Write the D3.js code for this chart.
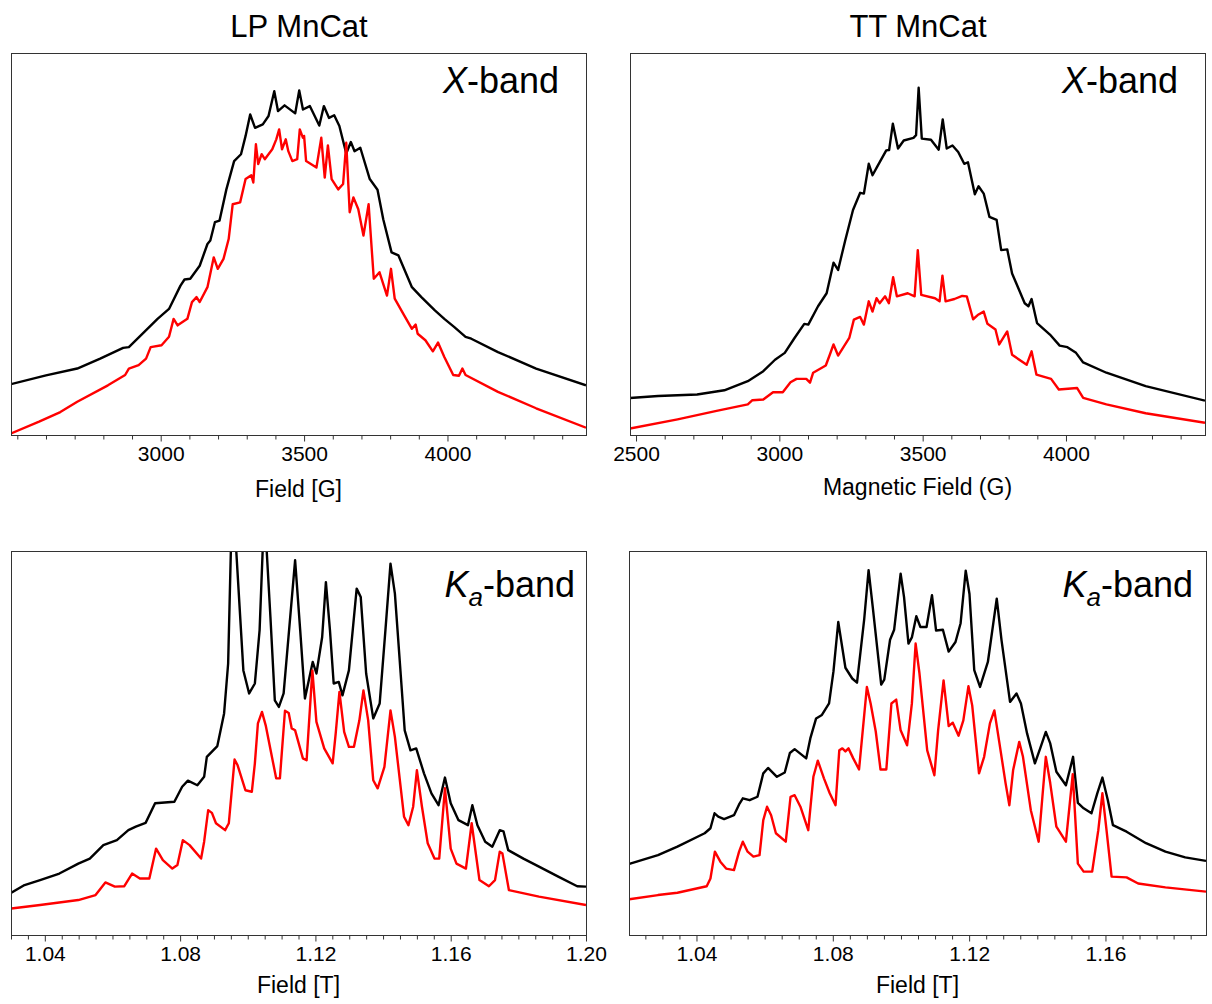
<!DOCTYPE html>
<html>
<head>
<meta charset="utf-8">
<script src="https://cdn.jsdelivr.net/npm/d3@7"></script>
<style>
  html, body { margin: 0; padding: 0; background: #fff; }
  svg { display: block; }
  text { font-family: "Liberation Sans", Arial, sans-serif; fill: #000; }
</style>
</head>
<body>
<svg id="chart" width="1212" height="1004"></svg>
<script>
// ---------------- DATA ----------------
const columnTitles = ["LP MnCat", "TT MnCat"];
const xAxisTitles = ["Field [G]", "Magnetic Field (G)", "Field [T]", "Field [T]"];

const ticksLPX = [3000, 3500, 4000];
const ticksTTX = [2500, 3000, 3500, 4000];
const ticksLPKa = [1.04, 1.08, 1.12, 1.16, 1.20];
const ticksTTKa = [1.04, 1.08, 1.12, 1.16];

// [field (G), intensity (a.u.)]
const lpXBlack = [[2478,13.3],[2600,15.6],[2709,17.4],[2789,20.0],[2869,22.8],[2889,23.0],[2943,27.0],[2989,30.4],[3029,33.0],[3069,39.1],[3083,40.7],[3103,40.9],[3136,44.3],[3163,50.0],[3173,50.9],[3189,55.7],[3205,56.1],[3229,64.3],[3256,71.7],[3280,73.5],[3296,78.3],[3312,83.9],[3329,80.4],[3356,81.3],[3376,83.5],[3396,90.0],[3409,84.8],[3432,86.3],[3469,84.2],[3483,90.2],[3496,85.2],[3520,86.1],[3553,81.0],[3569,86.1],[3587,83.0],[3605,83.7],[3623,80.9],[3647,73.7],[3663,76.7],[3676,74.3],[3696,75.2],[3729,67.0],[3756,64.2],[3776,56.5],[3805,47.8],[3829,47.0],[3876,38.7],[3909,36.1],[3956,32.6],[3989,30.4],[4023,28.3],[4063,25.7],[4083,25.2],[4176,21.7],[4309,17.4],[4483,13.0]];
const lpXRed = [[2478,0.4],[2576,3.5],[2650,6.0],[2709,8.7],[2816,13.0],[2876,15.7],[2889,17.4],[2923,18.3],[2949,20.0],[2965,23.0],[3003,23.5],[3029,25.7],[3045,30.4],[3059,28.7],[3093,30.4],[3109,34.8],[3125,36.1],[3136,34.8],[3163,38.7],[3185,46.5],[3199,43.5],[3219,46.1],[3237,51.3],[3251,60.4],[3277,60.9],[3296,67.0],[3316,68.0],[3323,66.1],[3332,76.1],[3340,70.9],[3352,73.5],[3363,72.2],[3389,74.8],[3403,77.4],[3413,80.0],[3423,74.8],[3436,77.4],[3445,74.3],[3459,71.7],[3476,72.2],[3485,80.0],[3496,77.8],[3500,78.3],[3507,71.7],[3543,70.0],[3560,77.8],[3572,67.4],[3583,75.8],[3596,67.0],[3619,64.3],[3636,65.7],[3647,76.5],[3659,58.3],[3672,62.2],[3689,59.1],[3707,52.2],[3725,60.4],[3743,40.9],[3763,42.6],[3789,36.5],[3803,43.5],[3816,35.7],[3849,31.3],[3876,27.8],[3889,28.9],[3896,26.5],[3923,24.8],[3949,21.9],[3967,24.2],[3989,20.4],[4020,15.7],[4040,15.5],[4052,17.4],[4063,15.7],[4176,11.3],[4309,7.0],[4483,1.9]];

const ttXBlack = [[2479,9.7],[2577,10.2],[2713,10.6],[2808,11.7],[2890,14.1],[2944,16.7],[2985,19.7],[3019,21.5],[3053,25.4],[3087,29.1],[3101,28.9],[3135,33.7],[3165,37.1],[3189,45.1],[3205,43.2],[3230,51.0],[3257,58.9],[3282,63.4],[3295,63.2],[3312,71.0],[3325,68.0],[3341,70.2],[3373,74.5],[3383,74.6],[3396,81.5],[3414,75.0],[3434,77.1],[3468,77.8],[3477,78.5],[3486,90.9],[3497,77.6],[3529,77.3],[3556,74.7],[3570,82.6],[3584,75.0],[3604,75.8],[3624,74.1],[3645,71.0],[3658,71.4],[3682,63.0],[3695,65.1],[3713,63.2],[3733,57.1],[3758,56.3],[3774,48.4],[3795,48.6],[3812,42.3],[3856,34.5],[3869,33.7],[3880,35.6],[3899,29.3],[3944,26.3],[3978,23.4],[4005,23.0],[4035,21.5],[4060,19.0],[4141,16.3],[4278,12.8],[4485,9.0]];
const ttXRed = [[2479,1.7],[2645,4.1],[2781,6.3],[2890,8.0],[2906,9.1],[2944,9.3],[2978,11.2],[3012,11.2],[3039,13.8],[3060,14.7],[3094,14.7],[3107,13.7],[3118,16.3],[3162,18.2],[3176,21.0],[3189,23.7],[3205,20.8],[3244,25.4],[3260,30.2],[3282,30.9],[3295,28.9],[3312,35.0],[3325,32.3],[3339,35.8],[3350,34.5],[3369,36.3],[3382,34.5],[3397,41.3],[3410,36.3],[3448,37.1],[3472,36.3],[3483,48.4],[3495,36.7],[3543,35.8],[3559,35.0],[3569,41.7],[3580,35.0],[3611,35.6],[3638,36.4],[3654,36.3],[3676,30.3],[3692,31.4],[3713,32.3],[3726,29.1],[3754,27.6],[3767,23.7],[3795,27.1],[3812,21.0],[3863,18.4],[3880,21.9],[3897,15.8],[3948,14.7],[3975,11.9],[4039,12.3],[4060,9.7],[4141,8.0],[4278,5.7],[4485,3.2]];

// [field (T), intensity (a.u.)]
const lpKaBlack = [[1.0301,11.0],[1.0340,13.0],[1.0386,14.3],[1.0443,16.0],[1.0499,18.6],[1.0533,19.9],[1.0573,23.4],[1.0613,24.7],[1.0647,27.3],[1.0669,28.2],[1.0698,29.2],[1.0726,34.3],[1.0783,34.7],[1.0806,38.6],[1.0823,40.2],[1.0851,39.0],[1.0871,41.2],[1.0879,46.4],[1.0910,49.2],[1.0930,57.7],[1.0942,70.7],[1.0950,100],[1.0958,118],[1.0966,100],[1.0987,68.9],[1.1004,62.9],[1.1021,65.5],[1.1035,79.4],[1.1044,100],[1.1050,106],[1.1056,100],[1.1067,82.8],[1.1080,61.1],[1.1092,59.4],[1.1106,62.9],[1.1140,97.6],[1.1155,79.4],[1.1169,61.6],[1.1192,71.1],[1.1203,68.1],[1.1220,77.6],[1.1231,91.9],[1.1243,79.4],[1.1254,65.5],[1.1269,65.9],[1.1280,62.4],[1.1299,68.9],[1.1322,90.2],[1.1334,88.0],[1.1350,68.1],[1.1371,56.4],[1.1390,60.3],[1.1407,79.4],[1.1422,96.7],[1.1435,88.9],[1.1452,68.1],[1.1464,53.3],[1.1481,48.1],[1.1498,48.6],[1.1521,42.1],[1.1543,36.9],[1.1564,33.8],[1.1583,41.0],[1.1600,34.3],[1.1623,29.9],[1.1651,28.6],[1.1664,33.8],[1.1679,28.6],[1.1702,24.3],[1.1723,23.0],[1.1745,27.3],[1.1756,27.0],[1.1770,22.1],[1.1815,19.9],[1.1861,17.8],[1.1918,15.2],[1.1974,12.7],[1.2000,12.6]];
const lpKaRed = [[1.0301,6.9],[1.0386,7.8],[1.0499,9.1],[1.0550,10.4],[1.0579,13.7],[1.0607,12.6],[1.0635,12.7],[1.0658,16.0],[1.0681,14.7],[1.0709,14.7],[1.0729,22.5],[1.0749,19.5],[1.0777,17.3],[1.0792,18.2],[1.0808,24.7],[1.0828,23.4],[1.0862,19.9],[1.0871,24.3],[1.0883,32.5],[1.0894,31.8],[1.0906,29.1],[1.0933,27.3],[1.0944,29.1],[1.0961,45.7],[1.0970,44.2],[1.0993,37.7],[1.1012,37.3],[1.1021,44.7],[1.1030,55.1],[1.1042,58.1],[1.1053,54.6],[1.1084,40.8],[1.1095,40.8],[1.1110,58.4],[1.1121,57.8],[1.1130,53.8],[1.1140,53.3],[1.1163,46.0],[1.1174,45.5],[1.1191,68.9],[1.1203,55.5],[1.1226,48.6],[1.1251,44.7],[1.1260,52.5],[1.1271,63.3],[1.1285,52.9],[1.1299,49.0],[1.1314,49.0],[1.1330,55.9],[1.1342,63.7],[1.1356,55.9],[1.1371,40.3],[1.1384,38.2],[1.1404,43.8],[1.1422,58.5],[1.1435,51.6],[1.1462,30.8],[1.1475,28.6],[1.1489,33.4],[1.1500,42.9],[1.1515,33.4],[1.1532,23.9],[1.1552,19.9],[1.1566,19.9],[1.1583,38.2],[1.1600,22.5],[1.1617,18.6],[1.1645,17.3],[1.1662,29.1],[1.1685,14.3],[1.1713,12.7],[1.1731,14.3],[1.1745,21.7],[1.1753,21.2],[1.1772,11.7],[1.1861,10.0],[1.2000,7.8]];

const ttKaBlack = [[1.0203,18.5],[1.0287,20.8],[1.0344,23.0],[1.0424,26.5],[1.0441,27.8],[1.0453,31.7],[1.0464,30.8],[1.0481,30.2],[1.0510,31.2],[1.0525,34.0],[1.0536,35.6],[1.0556,35.1],[1.0579,36.0],[1.0596,42.1],[1.0610,43.5],[1.0636,41.2],[1.0659,42.3],[1.0674,47.4],[1.0688,48.4],[1.0722,46.0],[1.0734,51.2],[1.0751,56.4],[1.0768,57.3],[1.0789,60.3],[1.0802,68.7],[1.0816,81.5],[1.0837,69.6],[1.0857,66.8],[1.0871,65.7],[1.0892,82.1],[1.0905,95.0],[1.0917,85.6],[1.0942,65.2],[1.0951,66.5],[1.0968,76.9],[1.0980,79.5],[1.0999,94.1],[1.1009,88.0],[1.1022,75.9],[1.1032,77.5],[1.1045,83.0],[1.1057,80.2],[1.1075,80.2],[1.1091,88.5],[1.1103,79.3],[1.1123,79.5],[1.1140,73.8],[1.1160,76.3],[1.1175,81.2],[1.1190,94.9],[1.1201,88.8],[1.1215,69.0],[1.1232,64.6],[1.1255,71.1],[1.1281,87.6],[1.1295,76.8],[1.1320,60.7],[1.1339,62.9],[1.1352,60.3],[1.1370,52.5],[1.1393,44.7],[1.1410,49.0],[1.1425,52.9],[1.1438,49.9],[1.1456,42.5],[1.1484,39.0],[1.1505,46.4],[1.1519,34.4],[1.1536,33.0],[1.1559,31.7],[1.1576,36.9],[1.1591,41.0],[1.1607,35.1],[1.1622,28.6],[1.1662,26.9],[1.1719,23.9],[1.1776,21.7],[1.1834,20.2],[1.1895,19.3]];
const ttKaRed = [[1.0203,9.3],[1.0287,10.4],[1.0344,11.0],[1.0430,12.7],[1.0441,14.7],[1.0454,21.7],[1.0470,19.1],[1.0487,17.3],[1.0510,16.9],[1.0525,21.7],[1.0536,24.3],[1.0550,21.7],[1.0567,20.4],[1.0585,20.8],[1.0596,29.9],[1.0607,33.4],[1.0619,31.2],[1.0633,26.5],[1.0662,24.3],[1.0676,36.0],[1.0688,36.4],[1.0705,33.4],[1.0728,27.3],[1.0743,41.2],[1.0756,45.4],[1.0774,40.8],[1.0791,36.9],[1.0808,33.8],[1.0819,48.1],[1.0828,48.6],[1.0837,47.8],[1.0846,48.6],[1.0860,46.0],[1.0877,43.1],[1.0900,64.6],[1.0911,60.3],[1.0926,53.0],[1.0940,43.1],[1.0957,43.1],[1.0972,60.3],[1.0986,61.3],[1.0999,53.3],[1.1018,49.4],[1.1032,60.3],[1.1043,75.9],[1.1054,68.3],[1.1077,48.1],[1.1098,41.6],[1.1109,53.3],[1.1125,66.3],[1.1140,54.4],[1.1152,55.3],[1.1169,51.9],[1.1183,55.9],[1.1198,64.8],[1.1209,59.8],[1.1229,42.1],[1.1244,46.4],[1.1261,55.1],[1.1274,58.5],[1.1289,49.9],[1.1307,39.5],[1.1318,33.8],[1.1329,42.9],[1.1347,50.3],[1.1358,46.4],[1.1381,32.5],[1.1404,24.3],[1.1415,36.0],[1.1425,46.4],[1.1438,39.5],[1.1456,28.2],[1.1484,24.3],[1.1504,41.9],[1.1519,18.6],[1.1536,16.5],[1.1561,16.5],[1.1579,27.3],[1.1591,36.9],[1.1602,28.2],[1.1618,15.2],[1.1662,15.0],[1.1696,13.4],[1.1776,12.4],[1.1895,11.3]];

// ---------------- LAYOUT ----------------
const panels = [
  { box: {l: 11, r: 586, t: 53, b: 435}, xDom: [2478, 4483], ticks: ticksLPX, minorStep: 100, minorStart: 2500, fmt: d3.format("d"),
    series: [lpXBlack, lpXRed], band: "X", bandX: 559, bandY: 93, xTitle: xAxisTitles[0], xTitleY: 497 },
  { box: {l: 630, r: 1205, t: 53, b: 435}, xDom: [2479, 4485], ticks: ticksTTX, minorStep: 100, minorStart: 2500, fmt: d3.format("d"),
    series: [ttXBlack, ttXRed], band: "X", bandX: 1178, bandY: 93, xTitle: xAxisTitles[1], xTitleY: 495 },
  { box: {l: 11, r: 586, t: 551, b: 935}, xDom: [1.03, 1.20], ticks: ticksLPKa, minorStep: 0.005, minorStart: 1.03, fmt: d3.format(".2f"),
    series: [lpKaBlack, lpKaRed], band: "K", bandX: 575, bandY: 597, xTitle: xAxisTitles[2], xTitleY: 993 },
  { box: {l: 629, r: 1206, t: 551, b: 935}, xDom: [1.0202, 1.1895], ticks: ticksTTKa, minorStep: 0.005, minorStart: 1.025, fmt: d3.format(".2f"),
    series: [ttKaBlack, ttKaRed], band: "K", bandX: 1193, bandY: 597, xTitle: xAxisTitles[3], xTitleY: 993 }
];
const colors = ["#000000", "#ff0000"];

const svg = d3.select("#chart");

// column titles
svg.append("text").attr("x", 299).attr("y", 37).attr("text-anchor", "middle").attr("font-size", 31).text(columnTitles[0]);
svg.append("text").attr("x", 918).attr("y", 37).attr("text-anchor", "middle").attr("font-size", 31).text(columnTitles[1]);

panels.forEach((p, i) => {
  const {l, r, t, b} = p.box;
  const x = d3.scaleLinear().domain(p.xDom).range([l, r]);
  const y = d3.scaleLinear().domain([0, 100]).range([b, t]);
  const g = svg.append("g");

  const clipId = "clip" + i;
  svg.append("clipPath").attr("id", clipId).append("rect")
    .attr("x", l).attr("y", t).attr("width", r - l).attr("height", b - t);

  const line = d3.line().x(d => x(d[0])).y(d => y(d[1]));
  const cg = g.append("g").attr("clip-path", `url(#${clipId})`);
  p.series.forEach((s, k) => {
    cg.append("path").datum(s).attr("d", line)
      .attr("fill", "none").attr("stroke", colors[k]).attr("stroke-width", 2.4)
      .attr("stroke-linejoin", "round");
  });

  // frame
  g.append("rect").attr("x", l + 0.5).attr("y", t + 0.5).attr("width", r - l).attr("height", b - t)
    .attr("fill", "none").attr("stroke", "#333").attr("stroke-width", 1);

  // minor ticks
  const minor = d3.range(p.minorStart, p.xDom[1] + 1e-9, p.minorStep)
    .filter(v => v >= p.xDom[0] - 1e-9 && !p.ticks.some(tk => Math.abs(tk - v) < p.minorStep / 10));
  const axMinor = d3.axisBottom(x).tickValues(minor).tickSize(4).tickFormat("");
  const gm = g.append("g").attr("transform", `translate(0,${b + 0.5})`).call(axMinor);
  gm.select(".domain").remove();
  gm.selectAll("line").attr("stroke", "#333");

  const ax = d3.axisBottom(x).tickValues(p.ticks).tickSize(6).tickPadding(5).tickFormat(p.fmt);
  const ga = g.append("g").attr("transform", `translate(0,${b + 0.5})`).call(ax);
  ga.select(".domain").remove();
  ga.selectAll("line").attr("stroke", "#333");
  ga.selectAll("text").attr("font-size", 21).attr("font-family", '"Liberation Sans", Arial, sans-serif').attr("fill", "#000");

  // axis title
  g.append("text").attr("x", (l + r) / 2).attr("y", p.xTitleY).attr("text-anchor", "middle")
    .attr("font-size", 23).text(p.xTitle);

  // band label
  const bt = g.append("text").attr("x", p.bandX).attr("y", p.bandY).attr("text-anchor", "end").attr("font-size", 36);
  if (p.band === "X") {
    bt.append("tspan").attr("font-style", "italic").text("X");
    bt.append("tspan").text("-band");
  } else {
    bt.append("tspan").attr("font-style", "italic").text("K");
    bt.append("tspan").attr("font-style", "italic").attr("font-size", 26).attr("dy", 9).text("a");
    bt.append("tspan").attr("dy", -9).text("-band");
  }
});
</script>
</body>
</html>
